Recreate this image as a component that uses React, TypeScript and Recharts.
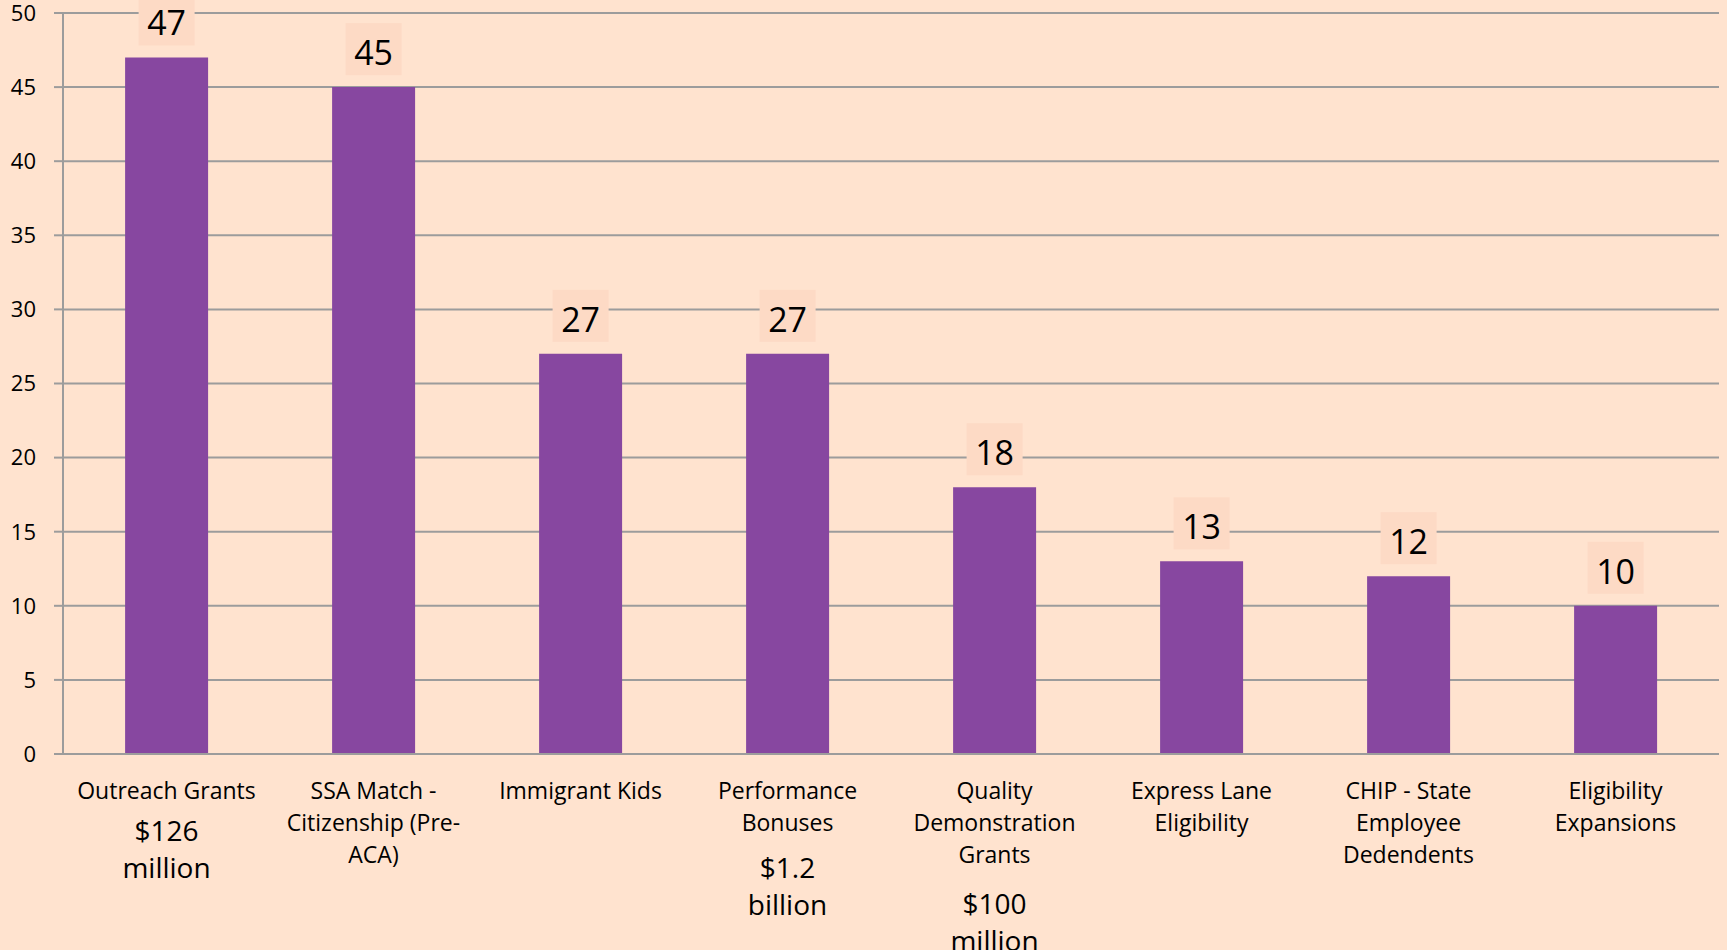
import * as React from "react";
import {
  BarChart,
  Bar,
  XAxis,
  YAxis,
  CartesianGrid,
  LabelList,
} from "recharts";

const categories = [
  ["Outreach Grants"],
  ["SSA Match -", "Citizenship (Pre-", "ACA)"],
  ["Immigrant Kids"],
  ["Performance", "Bonuses"],
  ["Quality", "Demonstration", "Grants"],
  ["Express Lane", "Eligibility"],
  ["CHIP - State", "Employee", "Dedendents"],
  ["Eligibility", "Expansions"],
];
const counts = [47, 45, 27, 27, 18, 13, 12, 10];
const funding = [
  ["$126", "million"],
  [],
  [],
  ["$1.2", "billion"],
  ["$100", "million"],
  [],
  [],
  [],
];
const yTicks = [0, 5, 10, 15, 20, 25, 30, 35, 40, 45, 50];
const edgeTicks = [0, 1, 2, 3, 4, 5, 6, 7, 8];

const data = categories.map((lines, i) => ({
  name: lines.join(" "),
  lines,
  funding: funding[i],
  count: counts[i],
  pos: i + 0.5,
}));

const BG = "#FFE3CF";
const BOX = "#FDDAC5";
const BAR = "#8747A0";
const GRID = "#9C9C9C";
const FONT = "'Open Sans', sans-serif";

function CategoryTick(props: any) {
  const { x, y, index } = props;
  const row = data[index];
  if (!row) return null;
  const lines: string[] = row.lines;
  const extra: string[] = row.funding;
  const first = 28;
  const lastLine = first + (lines.length - 1) * 32;
  const extraStart = lastLine + 40 + (lines.length - 1) * 4.5;
  return (
    <g>
      {lines.map((l, i) => (
        <text
          key={"l" + i}
          x={x}
          y={y + first + i * 32}
          textAnchor="middle"
          dominantBaseline="central"
          fontFamily={FONT}
          fontSize={23}
          fill="#000"
        >
          {l}
        </text>
      ))}
      {extra.map((l, i) => (
        <text
          key={"f" + i}
          x={x}
          y={y + extraStart + i * 37}
          textAnchor="middle"
          dominantBaseline="central"
          fontFamily={FONT}
          fontSize={28}
          fill="#000"
        >
          {l}
        </text>
      ))}
    </g>
  );
}

function ValueLabel(props: any) {
  const { x, y, width, value } = props;
  const cx = x + width / 2;
  return (
    <g>
      <rect x={cx - 28} y={y - 64} width={56} height={52} fill={BOX} />
      <text
        x={cx}
        y={y - 35}
        textAnchor="middle"
        dominantBaseline="central"
        fontFamily={FONT}
        fontSize={34}
        fill="#000"
      >
        {value}
      </text>
    </g>
  );
}

export default function App() {
  return (
    <div
      style={{
        position: "absolute",
        left: 0,
        top: 0,
        width: 1727,
        height: 950,
        background: BG,
        overflow: "hidden",
      }}
    >
      <BarChart
        width={1727}
        height={950}
        data={data}
        margin={{ top: 13, right: 8, bottom: 0, left: 0 }}
        barCategoryGap="30%"
      >
        <CartesianGrid
          xAxisId="cat"
          vertical={false}
          stroke={GRID}
          strokeWidth={2}
        />
        <XAxis
          xAxisId="edges"
          type="number"
          dataKey="pos"
          domain={[0, 8]}
          ticks={edgeTicks}
          height={0}
          axisLine={false}
          tick={false}
          tickLine={{ stroke: GRID, strokeWidth: 2 }}
          tickSize={9}
        />
        <XAxis
          xAxisId="cat"
          dataKey="name"
          height={196}
          interval={0}
          axisLine={{ stroke: GRID, strokeWidth: 2 }}
          tickLine={false}
          tick={<CategoryTick />}
        />
        <YAxis
          width={63}
          domain={[0, 50]}
          ticks={yTicks}
          interval={0}
          axisLine={{ stroke: GRID, strokeWidth: 2 }}
          tickLine={{ stroke: GRID, strokeWidth: 2 }}
          tickSize={9}
          tickMargin={18}
          tick={{ fontFamily: FONT, fontSize: 22, fill: "#000" }}
        />
        <Bar
          xAxisId="cat"
          dataKey="count"
          fill={BAR}
          isAnimationActive={false}
        >
          <LabelList dataKey="count" content={<ValueLabel />} />
        </Bar>
      </BarChart>
    </div>
  );
}
